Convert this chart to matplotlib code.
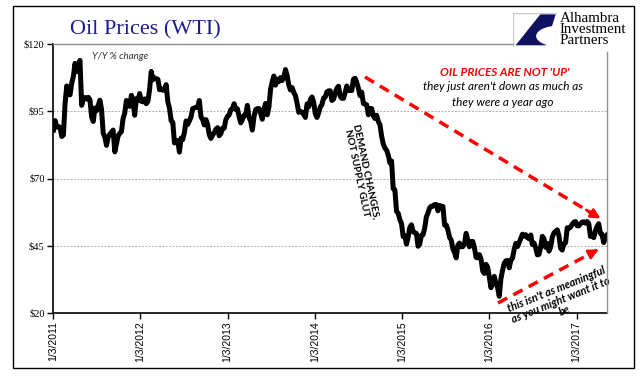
import numpy as np
import pandas as pd
import matplotlib
matplotlib.use('Agg')
import matplotlib.pyplot as plt
from matplotlib.patches import Rectangle, Polygon, Ellipse
from matplotlib.lines import Line2D

# WTI weekly closes
p2011 = [88.0, 91.5, 89.1, 89.3, 89.0, 85.6, 86.2, 97.9, 104.4, 101.2, 101.1, 105.4,
         107.9, 112.8, 109.7, 112.3, 113.9, 97.2, 99.6, 100.1, 99.5, 100.2, 99.3, 93.0, 91.2,
         96.2, 95.2, 97.2, 99.1, 95.7, 86.9, 85.4, 82.3, 85.4, 86.5, 87.2, 88.0, 79.9,
         82.9, 85.8, 86.8, 87.4, 92.3, 94.3, 99.0, 97.4, 96.8, 100.9, 99.4, 93.5, 99.7, 99.0]
p2012 = [101.6, 98.7, 98.5, 99.6, 97.8, 98.7, 103.2, 109.8, 106.7, 107.4, 107.1, 106.9, 103.0,
         103.3, 102.8, 103.0, 104.9, 98.5, 96.1, 91.5, 90.9, 83.2, 84.1, 84.0, 79.8, 85.0,
         84.5, 87.1, 91.4, 90.1, 91.4, 92.9, 96.0, 96.2, 96.5, 96.4, 99.0, 92.9, 91.9,
         89.9, 91.9, 90.1, 86.3, 84.9, 86.1, 87.0, 88.3, 88.9, 85.9, 86.7, 88.7, 88.7, 91.8]
p2013 = [93.1, 93.6, 95.6, 95.9, 97.8, 95.7, 95.9, 93.0, 90.7, 91.9, 93.5, 93.7, 97.2,
         92.7, 91.3, 88.0, 93.0, 95.6, 96.0, 96.0, 94.2, 92.0, 95.8, 97.9, 93.7, 96.6,
         103.2, 106.0, 108.1, 104.7, 106.9, 106.0, 107.5, 106.4, 107.7, 110.5, 108.2, 104.7, 102.9,
         103.8, 102.0, 100.8, 97.9, 94.6, 95.0, 94.6, 93.8, 92.7, 97.7, 96.6, 99.3, 100.3, 98.4]
p2014 = [94.0, 92.7, 94.4, 96.6, 97.5, 99.9, 100.3, 102.2, 102.6, 102.6, 99.0, 99.5, 101.7,
         103.6, 104.3, 100.6, 99.8, 99.8, 102.0, 104.4, 102.7, 102.7, 102.7, 106.9, 107.3, 105.7,
         103.5, 100.8, 102.1, 97.9, 97.7, 97.4, 93.7, 96.0, 96.0, 93.3, 92.3, 93.5, 91.2,
         90.0, 85.8, 82.8, 81.3, 80.5, 78.7, 75.8, 76.5, 66.2, 65.8, 57.8, 57.1, 54.7, 53.3]
p2015 = [48.4, 48.7, 45.6, 48.2, 51.7, 52.8, 50.3, 49.8, 49.6, 44.8, 45.7, 48.9,
         49.1, 51.6, 55.7, 57.2, 59.1, 59.7, 59.7, 60.3, 60.3, 58.0, 60.0, 59.6, 59.6,
         52.7, 52.7, 50.9, 48.1, 47.1, 43.9, 42.5, 40.5, 45.2, 46.0, 44.6, 44.7, 45.7,
         49.6, 47.1, 44.6, 46.6, 46.6, 44.3, 40.7, 40.5, 41.7, 40.0, 35.6, 34.7, 38.1, 37.0]
p2016 = [33.2, 29.4, 32.2, 33.6, 30.9, 29.4, 26.2, 32.8, 35.9, 38.5, 39.4, 39.5, 36.8,
         39.7, 40.4, 43.7, 45.9, 44.7, 46.2, 47.8, 49.3, 48.6, 49.1, 48.0, 47.6,
         49.0, 45.4, 46.0, 44.2, 41.6, 41.8, 44.5, 48.5, 47.6, 44.4, 45.9, 43.0, 44.5, 48.2,
         49.8, 50.4, 50.9, 48.7, 44.1, 43.4, 45.7, 46.1, 51.7, 51.5, 51.9, 53.0, 53.7]
p2017 = [54.0, 52.4, 52.4, 53.2, 53.8, 53.9, 53.4, 54.0, 53.3, 48.5, 48.8, 48.0, 50.6,
         52.2, 53.2, 49.6, 49.3, 46.2, 47.8, 48.9]

price = p2011 + p2012 + p2013 + p2014 + p2015 + p2016 + p2017
dates = pd.date_range('2011-01-05', '2017-05-10', periods=len(price))

yticks = [20, 45, 70, 95, 120]
tick_years = [2011, 2012, 2013, 2014, 2015, 2016, 2017]

fig = plt.figure(figsize=(6.41, 3.81), dpi=100)
W, H = 641.0, 381.0
ax = fig.add_axes([53 / W, 1 - 313 / H, (607 - 53) / W, (313 - 44) / H])

ax.plot(dates, price, color='black', lw=3.6, solid_joinstyle='round')

ax.set_ylim(20, 120)
ax.set_xlim(pd.Timestamp('2011-01-03'), pd.Timestamp('2017-05-10'))
ax.set_yticks(yticks)
ax.set_yticklabels(['$%d' % v for v in yticks], fontsize=7.5, family='Liberation Serif')
xt = [pd.Timestamp('%d-01-03' % y) for y in tick_years]
ax.set_xticks(xt)
ax.set_xticklabels(['1/3/%d' % y for y in tick_years], rotation=90, fontsize=7.5,
                   family='Liberation Sans')
ax.tick_params(axis='both', direction='out', length=4, width=1, color='black', pad=2)

for v in [45, 70, 95]:
    ax.axhline(v, color='#b0b0b0', lw=0.7, ls=(0, (2, 1.5)), zorder=0)

for s in ['top', 'right']:
    ax.spines[s].set_visible(False)
ax.spines['left'].set_linewidth(1.2)
ax.spines['bottom'].set_linewidth(1.2)

# frame pieces
fig.add_artist(Line2D([53 / W, 513 / W], [1 - 44 / H, 1 - 44 / H], color='#909090', lw=1))
fig.add_artist(Line2D([607 / W, 607 / W], [1 - 52 / H, 1 - 313 / H], color='#909090', lw=1))
fig.add_artist(Rectangle((13 / W, 1 - 368 / H), 621 / W, 362 / H, fill=False,
                         edgecolor='black', lw=1, transform=fig.transFigure))

# title
fig.text(70 / W, 1 - 34 / H, 'Oil Prices (WTI)', family='Liberation Serif', fontsize=16,
         color='#1c1c8c', va='baseline')

ax.text(0.07, 0.97, 'Y/Y % change', transform=ax.transAxes, fontsize=7, style='italic',
        color='#3a3030', family=['Lato', 'DejaVu Sans'], va='top')

# logo
lax = fig.add_axes([513 / W, 1 - 47 / H, 44 / W, 34 / H])
lax.set_xlim(0, 1)
lax.set_ylim(0, 1)
lax.axis('off')
lax.add_patch(Rectangle((0, 0), 1, 1, facecolor='white', edgecolor='#c8c8c8', lw=0.8))
lax.add_patch(Polygon([(0.97, 0.96), (0.62, 0.96), (0.06, 0.05), (0.75, 0.05)],
                      closed=True, facecolor='#101060', edgecolor='none'))
lax.add_patch(Ellipse((1.05, 0.32), 1.05, 0.62, facecolor='white', edgecolor='none'))
lax.add_patch(Rectangle((0, 0), 1, 1, fill=False, edgecolor='#c8c8c8', lw=0.8))
fig.text(560 / W, 1 - 12 / H, 'Alhambra\nInvestment\nPartners', family='Liberation Serif',
         fontsize=10.8, va='top', ha='left', linespacing=0.8)

# annotations
def ax_pt(px, py):
    return ((px - 53) / (607 - 53), (313 - py) / (313 - 44))

def red_arrow(p0, p1):
    a = ax_pt(*p0)
    b = ax_pt(*p1)
    ax.plot([a[0], b[0] - (b[0] - a[0]) * 0.05], [a[1], b[1] - (b[1] - a[1]) * 0.05],
            transform=ax.transAxes, color='red', lw=2.5, ls=(0, (3, 2)), clip_on=False)
    ax.annotate('', xy=b, xytext=(b[0] - (b[0] - a[0]) * 0.08, b[1] - (b[1] - a[1]) * 0.08),
                xycoords='axes fraction', textcoords='axes fraction',
                arrowprops=dict(arrowstyle='-|>', color='red', lw=2, mutation_scale=14))

red_arrow((365, 77), (603, 220))
red_arrow((498, 303), (601, 248))

sans = ['Lato', 'DejaVu Sans']
x0, y0 = ax_pt(505, 72)
ax.text(x0, y0, "OIL PRICES ARE NOT 'UP'", transform=ax.transAxes, ha='center', va='center',
        color='red', fontsize=8.5, style='italic', weight='bold', family=sans)
x0, y0 = ax_pt(503, 87)
ax.text(x0, y0, "they just aren't down as much as", transform=ax.transAxes, ha='center',
        va='center', fontsize=8.5, style='italic', family=sans)
x0, y0 = ax_pt(503, 102)
ax.text(x0, y0, 'they were a year ago', transform=ax.transAxes, ha='center',
        va='center', fontsize=8.5, style='italic', family=sans)

x0, y0 = ax_pt(361, 172)
ax.text(x0, y0, 'DEMAND CHANGES,\nNOT SUPPLY GLUT', transform=ax.transAxes, ha='center',
        va='center', rotation=-78, fontsize=7.2, weight='bold',
        family=sans, linespacing=1.0)

x0, y0 = ax_pt(561, 300)
ax.text(x0, y0, "this isn't as meaningful\nas you might want it to\nbe", transform=ax.transAxes,
        ha='center', va='center', rotation=22, fontsize=7.8,
        weight='bold', style='italic', family=sans, linespacing=1.0, clip_on=False)

fig.savefig('out.png', dpi=100)
